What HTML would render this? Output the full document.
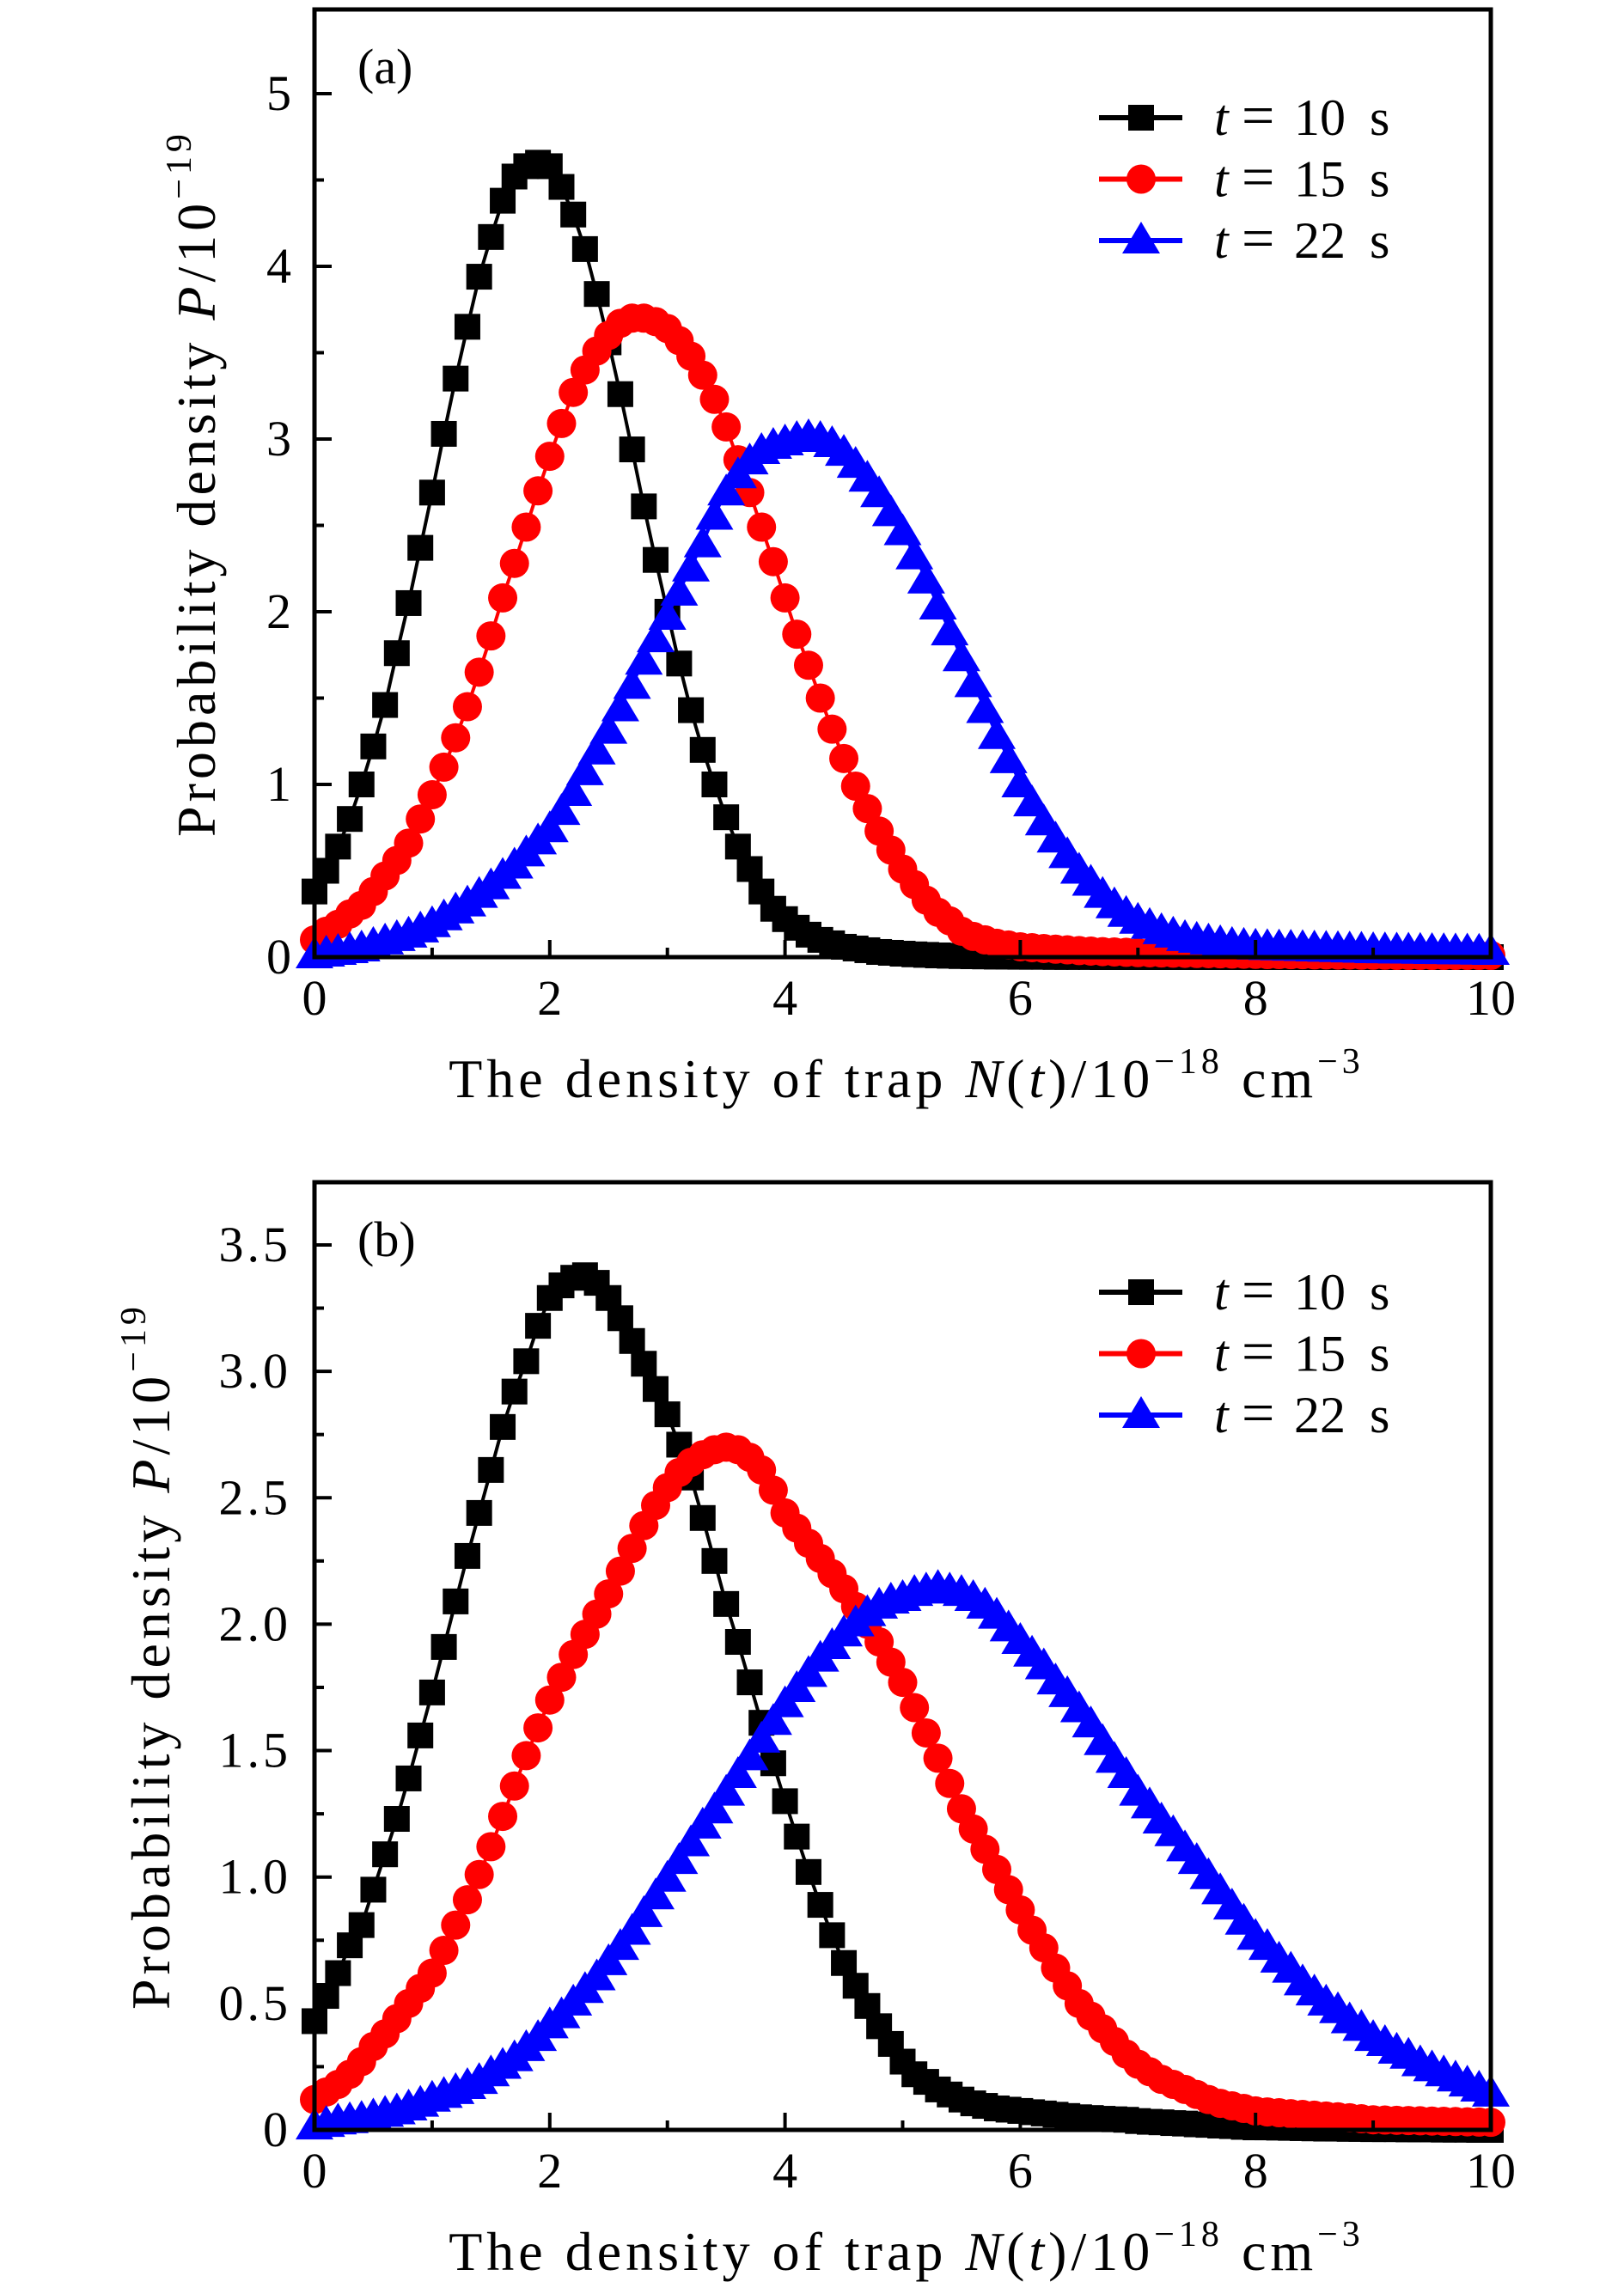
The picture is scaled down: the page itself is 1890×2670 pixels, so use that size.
<!DOCTYPE html>
<html><head><meta charset="utf-8"><style>
html,body{margin:0;padding:0;background:#fff;}
svg{display:block;font-family:"Liberation Serif","DejaVu Serif",serif;}
</style></head><body>
<svg id="fig" width="1890" height="2670" viewBox="0 0 1890 2670" xmlns="http://www.w3.org/2000/svg"></svg>
<script>
// ---- data ----
const xStep = 0.1;
const xTicks = [0, 2, 4, 6, 8, 10];
const yTicksA = [0, 1, 2, 3, 4, 5];
const yTicksB = [0, 0.5, 1.0, 1.5, 2.0, 2.5, 3.0, 3.5];
const yTickLabelsB = ["0", "0.5", "1.0", "1.5", "2.0", "2.5", "3.0", "3.5"];
const seriesNames = ["t = 10 s", "t = 15 s", "t = 22 s"];

const a10 = [0.38,0.5,0.64,0.8,1.0,1.22,1.46,1.76,2.05,2.37,
2.69,3.03,3.35,3.65,3.94,4.17,4.38,4.52,4.58,4.6,
4.58,4.46,4.3,4.1,3.84,3.56,3.26,2.94,2.61,2.3,
2.0,1.7,1.43,1.2,1.0,0.81,0.64,0.51,0.38,0.28,
0.22,0.17,0.13,0.1,0.08,0.06,0.05,0.04,0.03,0.025,
0.02,0.016,0.013,0.01,0.008,0.006,0.005,0.004,0.003,0.003,
0.002,0.002,0.002,0.001,0.001,0.001,0.001,0,0,0,
0,0,0,0,0,0,0,0,0,0,
0,0,0,0,0,0,0,0,0,0,
0,0,0,0,0,0,0,0,0,0,
0];
const a15 = [0.10,0.15,0.19,0.25,0.30,0.38,0.47,0.56,0.66,0.80,
0.94,1.10,1.27,1.45,1.65,1.86,2.08,2.28,2.49,2.70,
2.90,3.09,3.27,3.40,3.51,3.60,3.67,3.70,3.70,3.68,
3.64,3.57,3.48,3.37,3.23,3.07,2.88,2.69,2.49,2.29,
2.08,1.87,1.69,1.50,1.32,1.15,0.99,0.86,0.73,0.62,
0.51,0.42,0.33,0.26,0.21,0.15,0.12,0.10,0.08,0.07,
0.06,0.055,0.05,0.046,0.042,0.038,0.035,0.032,0.03,0.028,
0.026,0.025,0.024,0.023,0.022,0.021,0.02,0.019,0.018,0.017,
0.016,0.015,0.015,0.014,0.014,0.013,0.013,0.012,0.012,0.011,
0.011,0.011,0.01,0.01,0.01,0.01,0.01,0.01,0.01,0.01,
0.01];
const a22 = [0.02,0.03,0.04,0.05,0.06,0.08,0.1,0.12,0.14,0.17,
0.2,0.24,0.28,0.32,0.37,0.42,0.48,0.54,0.61,0.68,
0.75,0.85,0.96,1.08,1.2,1.32,1.45,1.58,1.72,1.85,
1.98,2.12,2.26,2.4,2.56,2.7,2.8,2.88,2.94,2.97,
2.99,3.01,3.02,3.01,2.98,2.93,2.86,2.78,2.69,2.58,
2.47,2.33,2.19,2.04,1.89,1.74,1.59,1.44,1.29,1.15,
1.01,0.9,0.79,0.69,0.6,0.51,0.44,0.37,0.31,0.26,
0.22,0.19,0.16,0.14,0.12,0.11,0.1,0.09,0.08,0.075,
0.07,0.068,0.066,0.064,0.062,0.06,0.058,0.056,0.054,0.052,
0.05,0.049,0.048,0.047,0.046,0.045,0.044,0.043,0.042,0.041,
0.04];
const b10 = [0.43,0.53,0.62,0.73,0.81,0.95,1.09,1.23,1.39,1.56,
1.73,1.91,2.09,2.27,2.44,2.61,2.78,2.92,3.04,3.18,
3.29,3.34,3.37,3.38,3.35,3.29,3.21,3.12,3.03,2.93,
2.83,2.71,2.58,2.42,2.25,2.08,1.93,1.77,1.61,1.45,
1.30,1.16,1.02,0.89,0.77,0.66,0.57,0.49,0.41,0.34,
0.27,0.22,0.19,0.16,0.14,0.12,0.105,0.095,0.085,0.08,
0.075,0.07,0.065,0.06,0.055,0.05,0.047,0.044,0.042,0.04,
0.035,0.032,0.03,0.027,0.025,0.022,0.02,0.017,0.015,0.012,
0.01,0.01,0.009,0.008,0.007,0.006,0.005,0.005,0.004,0.004,
0.003,0.003,0.003,0.002,0.002,0.002,0.001,0.001,0.001,0,
0];
const b15 = [0.12,0.15,0.18,0.22,0.27,0.33,0.38,0.44,0.5,0.56,
0.62,0.71,0.81,0.91,1.01,1.12,1.24,1.36,1.48,1.59,
1.70,1.79,1.88,1.96,2.04,2.12,2.21,2.30,2.39,2.47,
2.54,2.6,2.64,2.67,2.69,2.70,2.69,2.66,2.61,2.53,
2.44,2.38,2.32,2.26,2.2,2.14,2.07,2.0,1.93,1.85,
1.77,1.67,1.57,1.47,1.37,1.27,1.19,1.11,1.03,0.95,
0.87,0.79,0.72,0.64,0.57,0.5,0.45,0.4,0.35,0.3,
0.26,0.23,0.2,0.18,0.16,0.14,0.12,0.105,0.095,0.085,
0.075,0.071,0.068,0.064,0.061,0.058,0.055,0.052,0.048,0.044,
0.04,0.039,0.038,0.037,0.036,0.035,0.034,0.033,0.032,0.031,
0.03];
const b22 = [0.02,0.03,0.04,0.045,0.05,0.06,0.07,0.08,0.095,0.11,
0.13,0.145,0.16,0.18,0.2,0.23,0.26,0.29,0.33,0.37,
0.42,0.46,0.51,0.56,0.61,0.67,0.73,0.79,0.86,0.93,
1.0,1.07,1.14,1.21,1.27,1.34,1.41,1.48,1.55,1.62,
1.69,1.75,1.81,1.87,1.92,1.97,2.01,2.05,2.08,2.1,
2.11,2.13,2.14,2.15,2.14,2.13,2.11,2.08,2.04,1.99,
1.94,1.89,1.84,1.78,1.73,1.67,1.61,1.54,1.47,1.41,
1.34,1.29,1.23,1.18,1.12,1.07,1.01,0.95,0.89,0.83,
0.77,0.73,0.68,0.64,0.59,0.55,0.51,0.48,0.44,0.41,
0.37,0.35,0.32,0.3,0.27,0.25,0.23,0.21,0.19,0.17,
0.15];

// ---- drawing ----
const NS = "http://www.w3.org/2000/svg";
const svg = document.getElementById("fig");
function mk(tag, attrs, parent) {
  const e = document.createElementNS(NS, tag);
  for (const k in attrs) e.setAttribute(k, attrs[k]);
  (parent || svg).appendChild(e);
  return e;
}
const X0 = 366, X1 = 1735;
function sx(v) { return X0 + (X1 - X0) * v / 10; }
const colors = ["#000000", "#ff0000", "#0000ff"];
const shapes = ["square", "circle", "triangle"];

function marker(g, shape, cx, cy, color) {
  let m;
  if (shape === "square") {
    m = mk("rect", {x: cx - 15, y: cy - 15, width: 30, height: 30, fill: color}, g);
  } else if (shape === "circle") {
    m = mk("circle", {cx: cx, cy: cy, r: 17, fill: color}, g);
  } else {
    m = mk("polygon", {points: (cx) + "," + (cy - 20) + " " + (cx - 22) + "," + (cy + 17) + " " + (cx + 22) + "," + (cy + 17), fill: color}, g);
  }
  return m;
}

function panel(p) {
  const g = mk("g", {});
  
  
  const sy = v => p.y0 - v * p.ppu;
  p.series.forEach((vals, si) => {
    const sg = mk("g", {}, g);
    
    
    let d = "";
    vals.forEach((v, i) => { d += (i ? "L" : "M") + sx(i * xStep).toFixed(1) + "," + sy(v).toFixed(1); });
    const line = mk("path", {d: d, fill: "none", stroke: colors[si], "stroke-width": 4}, sg);
    
    
    vals.forEach((v, i) => {
      const m = marker(sg, shapes[si], sx(i * xStep), sy(v), colors[si]);
      
      
    });
  });
  const fr = mk("rect", {x: X0, y: p.top, width: X1 - X0, height: p.y0 - p.top, fill: "none", stroke: "#000", "stroke-width": 5}, g);
  
  
  for (let v = 1; v < 10; v += 2) {
    mk("line", {x1: sx(v), x2: sx(v), y1: p.y0, y2: p.y0 - 11, stroke: "#000", "stroke-width": 4}, g);
  }
  xTicks.forEach(v => {
    mk("line", {x1: sx(v), x2: sx(v), y1: p.y0, y2: p.y0 - 20, stroke: "#000", "stroke-width": 4}, g);
    const t = mk("text", {x: sx(v), y: p.y0 + 67, "font-size": 58, "text-anchor": "middle"}, g);
    t.textContent = String(v);
    
    
  });
  p.yTicks.forEach((v, i) => {
    mk("line", {x1: X0, x2: X0 + 20, y1: sy(v), y2: sy(v), stroke: "#000", "stroke-width": 4}, g);
    if (i < p.yTicks.length - 1) {
      const mv = (v + p.yTicks[i + 1]) / 2;
      mk("line", {x1: X0, x2: X0 + 11, y1: sy(mv), y2: sy(mv), stroke: "#000", "stroke-width": 4}, g);
    }
    const t = mk("text", {x: 339, y: sy(v) + 19, "font-size": 58, "text-anchor": "end", "letter-spacing": p.ls}, g);
    t.textContent = p.yLabels[i];
    
    
  });
  const pl = mk("text", {x: 416, y: p.top + 86, "font-size": 58}, g);
  pl.textContent = p.label;
  
  
  const xt = mk("text", {x: 1055, y: p.y0 + 163, "font-size": 64, "letter-spacing": 5, "text-anchor": "middle"}, g);
  xt.innerHTML = 'The density of trap <tspan font-style="italic">N</tspan>(<tspan font-style="italic">t</tspan>)/10<tspan font-size="42" dy="-28">−18</tspan><tspan dy="28"> cm</tspan><tspan font-size="42" dy="-28">−3</tspan>';
  
  
  const cy = (p.top + p.y0) / 2;
  const yt = mk("text", {x: 0, y: 0, "font-size": 64, "letter-spacing": 5, "text-anchor": "middle", transform: "translate(" + p.ytx + "," + cy + ") rotate(-90)"}, g);
  yt.innerHTML = 'Probability density <tspan font-style="italic">P</tspan>/10<tspan font-size="42" dy="-28">−19</tspan>';
  
  
  const lg = mk("g", {}, g);
  
  
  seriesNames.forEach((nm, si) => {
    const ry = p.legY + si * 71.5;
    const eg = mk("g", {}, lg);
    
    
    mk("line", {x1: 1279, x2: 1376, y1: ry, y2: ry, stroke: colors[si], "stroke-width": 6}, eg);
    marker(eg, shapes[si], 1328, ry + (si === 2 ? -2 : 0), colors[si]);
    const num = nm.split(" ")[2];
    const t = mk("text", {x: 1413, y: ry + 20, "font-size": 60}, eg);
    t.innerHTML = '<tspan font-style="italic">t</tspan><tspan x="1445" font-size="68">=</tspan><tspan x="1506">' + num + '</tspan><tspan x="1594">s</tspan>';
  });
}

panel({name: "panel-a", top: 11, y0: 1114, ppu: 201, series: [a10, a15, a22],
  yTicks: yTicksA, yLabels: yTicksA.map(String), label: "(a)", ytx: 250, legY: 137, ls: 0});
panel({name: "panel-b", top: 1376, y0: 2479, ppu: 294.3, series: [b10, b15, b22],
  yTicks: yTicksB, yLabels: yTickLabelsB, label: "(b)", ytx: 197, legY: 1504, ls: 4});
</script>
</body></html>
